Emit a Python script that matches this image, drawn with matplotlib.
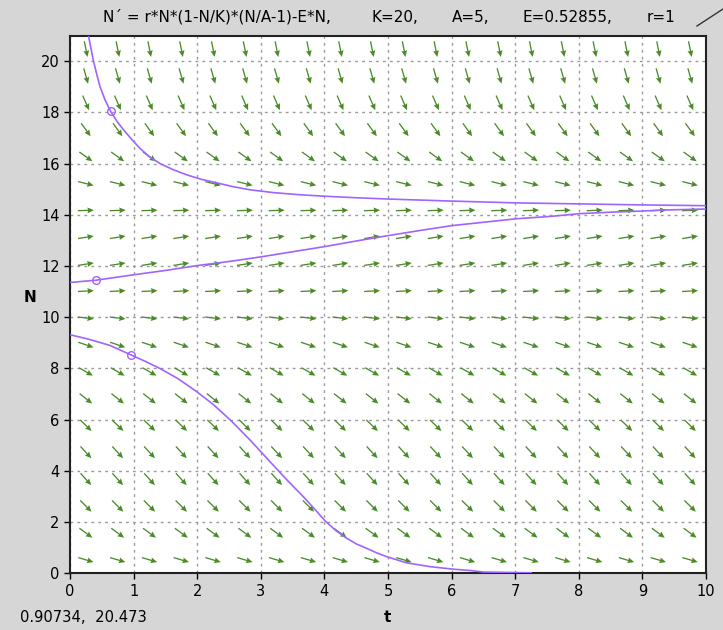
import numpy as np
import matplotlib
matplotlib.use("Agg")
import matplotlib.pyplot as plt
from matplotlib.lines import Line2D

# ---- data ----
title_parts = ["N\u00b4 = r*N*(1-N/K)*(N/A-1)-E*N,", "K=20,", "A=5,", "E=0.52855,", "r=1"]
status_text = "0.90734,  20.473"

# direction-field grid (cell centres) and slope dN/dt for each row
arrow_t = [0.25, 0.75, 1.25, 1.75, 2.25, 2.75, 3.25, 3.75, 4.25, 4.75,
           5.25, 5.75, 6.25, 6.75, 7.25, 7.75, 8.25, 8.75, 9.25, 9.75]
arrow_N = [0.525, 1.575, 2.625, 3.675, 4.725, 5.775, 6.825, 7.875, 8.925, 9.975,
           11.025, 12.075, 13.125, 14.175, 15.225, 16.275, 17.325, 18.375, 19.425, 20.475]
row_slope = [-0.735, -1.826, -2.471, -2.737, -2.696, -2.416, -1.966, -1.417, -0.838, -0.297,
             0.134, 0.388, 0.394, 0.084, -0.614, -1.767, -3.445, -5.719, -8.656, -12.33]

# solution curves
c1_t = [0.29, 0.33, 0.37, 0.42, 0.47, 0.55, 0.64, 0.74, 0.84, 0.97, 1.10, 1.25, 1.42, 1.62, 1.83,
        2.05, 2.31, 2.57, 2.83, 3.2, 3.6, 4.0, 4.5, 5.0, 6.0, 7.0, 8.0, 9.0, 10.0]
c1_N = [21.0, 20.5, 20.0, 19.5, 19.02, 18.5, 18.04, 17.65, 17.33, 16.95, 16.6, 16.27, 16.0, 15.77, 15.57,
        15.4, 15.25, 15.1, 14.98, 14.87, 14.79, 14.73, 14.67, 14.62, 14.54, 14.47, 14.43, 14.39, 14.36]
c2_t = [0.0, 0.41, 1.0, 1.5, 2.0, 2.5, 3.0, 3.5, 4.0, 4.5, 5.0, 5.5, 6.0, 6.76, 7.02, 7.55, 8.02, 8.54, 9.0, 9.32, 10.0]
c2_N = [11.36, 11.45, 11.66, 11.83, 12.02, 12.18, 12.36, 12.56, 12.76, 12.98, 13.19, 13.39, 13.58, 13.78, 13.85, 13.94, 14.05, 14.11, 14.15, 14.19, 14.23]
c3_t = [0.0, 0.3, 0.63, 0.96, 1.2, 1.415, 1.7, 1.99, 2.25, 2.52, 2.83, 3.1, 3.41, 3.67, 3.85, 4.01,
        4.18, 4.35, 4.5, 4.66, 4.82, 4.98, 5.29, 5.66, 6.03, 6.29, 6.5, 7.2, 7.25]
c3_N = [9.32, 9.14, 8.9, 8.53, 8.26, 8.0, 7.6, 7.1, 6.6, 5.99, 5.21, 4.48, 3.65, 2.99, 2.5, 2.05,
        1.67, 1.37, 1.15, 0.98, 0.8, 0.65, 0.41, 0.26, 0.16, 0.11, 0.05, 0.02, 0.02]
start_t = [0.64, 0.41, 0.96]
start_N = [18.04, 11.45, 8.53]

# ---- figure ----
W, H, DPI = 723, 630, 100
fig = plt.figure(figsize=(W / DPI, H / DPI), dpi=DPI, facecolor="#d6d6d6")
ax = fig.add_axes([70 / W, 1 - 573.3 / H, 636 / W, 537.6 / H])
ax.set_facecolor("white")
ax.set_xlim(0, 10)
ax.set_ylim(0, 21)
ax.set_xticks(range(0, 11))
ax.set_yticks(range(0, 21, 2))
ax.grid(True, color="#9a9a9a", linestyle=(0, (2, 3)), linewidth=1.0)
ax.set_axisbelow(True)
ax.tick_params(direction="out", length=4, width=1, labelsize=10.5, colors="black")
for s in ax.spines.values():
    s.set_linewidth(1.5)
    s.set_color("#222222")

# direction field: unit arrows in screen space
p0 = ax.transData.transform((0, 0))
p1 = ax.transData.transform((1, 1))
sx, sy = p1[0] - p0[0], p1[1] - p0[1]
TT, NN = np.meshgrid(arrow_t, arrow_N)
S = np.repeat(np.array(row_slope)[:, None], len(arrow_t), axis=1)
U = sx * np.ones_like(S)
V = sy * S
L = np.hypot(U, V)
U = U / L * 16
V = V / L * 16
ax.quiver(TT, NN, U, V, angles="uv", scale_units="dots", scale=1, units="dots",
          width=1.3, headwidth=4.5, headlength=5, headaxislength=4.5, pivot="middle",
          color="#4a8a28", zorder=2)

purple = "#a064ff"
for tt, nn in [(c1_t, c1_N), (c2_t, c2_N), (c3_t, c3_N)]:
    ax.plot(tt, nn, color=purple, lw=1.2, zorder=3)
ax.plot(start_t, start_N, "o", ms=5.5, mfc="none", mec=purple, mew=1.0, zorder=4)

fig.text(387 / W, 1 - 618 / H, "t", fontsize=11, fontweight="bold", ha="center", va="center")
fig.text(30 / W, 1 - 298 / H, "N", fontsize=11, fontweight="bold", ha="center", va="center")

# title pieces
xs = [103, 372, 452, 523, 647]
for x, s in zip(xs, title_parts):
    fig.text(x / W, 1 - 17 / H, s, fontsize=11, ha="left", va="center")
fig.text(20 / W, 1 - 618 / H, status_text, fontsize=10.6, ha="left", va="center")

fig.add_artist(Line2D([697 / W, 723 / W], [1 - 26 / H, 1 - 9 / H], color="#333333", lw=1))

fig.savefig("out.png", dpi=DPI, facecolor=fig.get_facecolor())
